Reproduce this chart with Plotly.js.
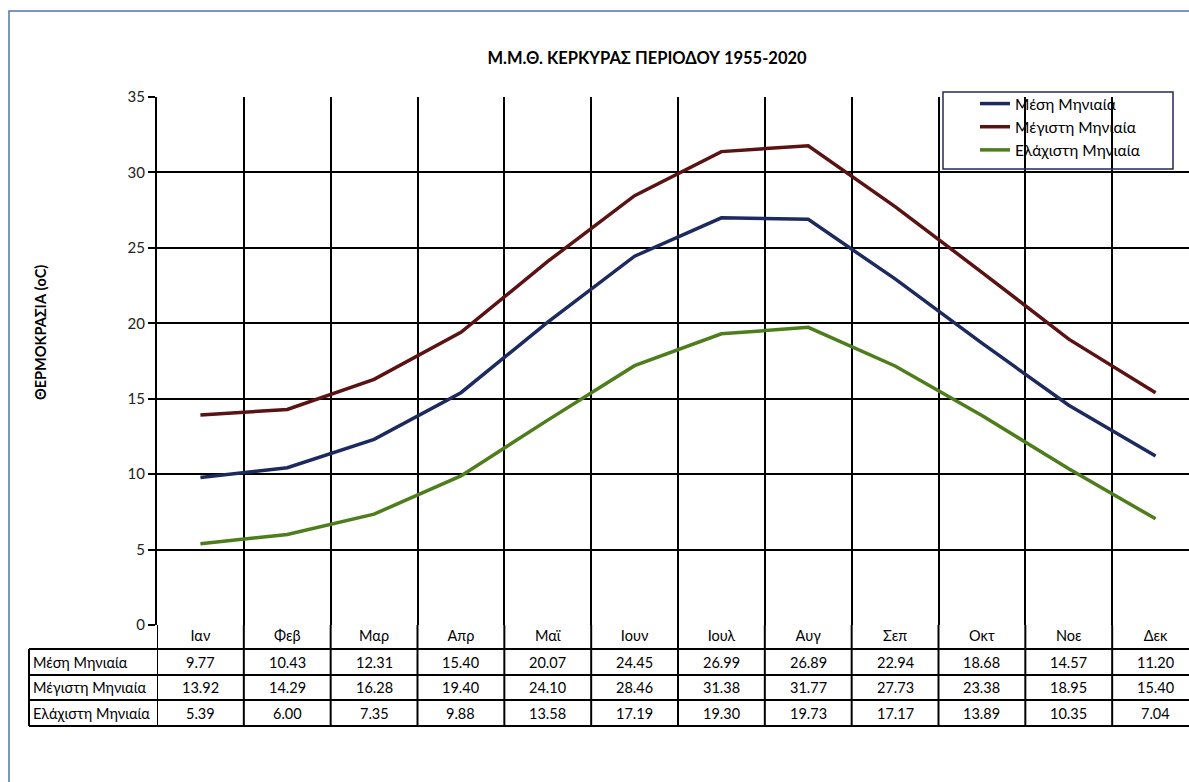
<!DOCTYPE html>
<html>
<head>
<meta charset="utf-8">
<script src="https://cdn.plot.ly/plotly-3.0.1.min.js"></script>
<style>
html,body{margin:0;padding:0;overflow:hidden;background:#fff;}
#chart{width:1210px;height:782px;}
</style>
</head>
<body>
<div id="chart"></div>
<script>
const months = ['Ιαν','Φεβ','Μαρ','Απρ','Μαϊ','Ιουν','Ιουλ','Αυγ','Σεπ','Οκτ','Νοε','Δεκ'];
const meanT = [9.77,10.43,12.31,15.40,20.07,24.45,26.99,26.89,22.94,18.68,14.57,11.20];
const maxT  = [13.92,14.29,16.28,19.40,24.10,28.46,31.38,31.77,27.73,23.38,18.95,15.40];
const minT  = [5.39,6.00,7.35,9.88,13.58,17.19,19.30,19.73,17.17,13.89,10.35,7.04];
const seriesNames = ['Μέση Μηνιαία','Μέγιστη Μηνιαία','Ελάχιστη Μηνιαία'];
const seriesValues = [meanT, maxT, minT];
const seriesColors = ['#1c2a5e','#5a1212','#4e7d1c'];
const chartTitle = 'Μ.Μ.Θ. ΚΕΡΚΥΡΑΣ ΠΕΡΙΟΔΟΥ 1955-2020';
const yTitle = 'ΘΕΡΜΟΚΡΑΣΙΑ (oC)';

const FONT = 'Lato, "Noto Sans", "Open Sans", sans-serif';

// pixel geometry helpers (plot area: left 157, top 97, width 1042, height 528)
const L = 157, T = 97, W = 1042, H = 528, B = T + H;
const px = v => (v - L) / W;
const py = v => (B - v) / H;

const traces = seriesNames.map((n, i) => ({
  type: 'scatter', mode: 'lines', name: n, legendgroup: 'g' + i,
  x: months, y: seriesValues[i],
  line: {color: seriesColors[i], width: 3.5},
  hoverinfo: 'skip'
}));

const shapes = [];
const annotations = [];

// outer chart frame
shapes.push({type:'rect', xref:'paper', yref:'paper', x0:px(9), x1:px(1250), y0:py(850), y1:py(11),
  line:{color:'#4f74a8', width:1.5}, fillcolor:'rgba(0,0,0,0)', layer:'below'});

// legend box
shapes.push({type:'rect', xref:'paper', yref:'paper', x0:px(943), x1:px(1173), y0:py(169), y1:py(92),
  line:{color:'#25285a', width:1.5}, fillcolor:'rgba(0,0,0,0)'});

// data table geometry
const rowLines = [649, 675, 700, 726];
const rowCenters = [662, 687.5, 713];
rowLines.forEach(yv => shapes.push({type:'line', xref:'paper', yref:'paper', x0:px(29), x1:px(1300), y0:py(yv), y1:py(yv),
  line:{color:'#000', width:2}}));
// left edge of header column
shapes.push({type:'line', xref:'paper', yref:'paper', x0:px(29), x1:px(29), y0:py(649), y1:py(726), line:{color:'#000', width:2}});
// column separators continuing from the category boundaries
for (let k = 0; k <= months.length; k++) {
  shapes.push({type:'line', xref:'x', yref:'paper', x0:k-0.5, x1:k-0.5, y0:0, y1:py(726), line:{color:'#000', width:2}});
}
// row headers and values
seriesNames.forEach((n, r) => {
  annotations.push({xref:'paper', yref:'paper', x:px(31), y:py(rowCenters[r]), xanchor:'left', yanchor:'middle',
    text:n, showarrow:false, font:{family:FONT, size:14.5, color:'#000'}});
  seriesValues[r].forEach((v, c) => {
    annotations.push({xref:'x', yref:'paper', x:c, y:py(rowCenters[r]), xanchor:'center', yanchor:'middle',
      text:v.toFixed(2), showarrow:false, font:{family:FONT, size:14.5, color:'#000'}});
  });
});
// y axis title
annotations.push({xref:'paper', yref:'paper', x:px(40), y:py(333), textangle:-90, xanchor:'center', yanchor:'middle',
  text:yTitle, showarrow:false, font:{family:FONT, size:14.5, color:'#000', weight:700}});

const layout = {
  width: 1210, height: 782,
  margin: {l: L, r: 1210 - L - W, t: T, b: 782 - B},
  paper_bgcolor: '#fff', plot_bgcolor: '#fff',
  font: {family: FONT, size: 14, color: '#000'},
  title: {text: chartTitle, x: 647/1210, xref: 'container', xanchor: 'center', y: 1 - 58/782, yref: 'container', yanchor: 'middle',
    font: {family: FONT, size: 16.5, color: '#000', weight: 700}},
  xaxis: {type: 'category', range: [-0.5, 11.5], tickson: 'boundaries', showgrid: true, gridcolor: '#000', gridwidth: 2,
    ticks: '', showline: false, zeroline: false, tickfont: {family: FONT, size: 14.5, color: '#000'}, fixedrange: true},
  yaxis: {range: [0, 35], dtick: 5, tick0: 0, showgrid: true, gridcolor: '#000', gridwidth: 2, zeroline: false,
    showline: true, linecolor: '#000', linewidth: 2, ticks: 'outside', ticklen: 7, tickwidth: 2, tickcolor: '#000',
    tickfont: {family: FONT, size: 15, color: '#222'}, fixedrange: true},
  showlegend: true,
  legend: {x: px(975), xanchor: 'left', y: py(87), yanchor: 'top', bgcolor: 'rgba(0,0,0,0)', borderwidth: 0,
    font: {family: FONT, size: 15.5, color: '#000'}, tracegroupgap: 9, traceorder: 'normal'},
  shapes: shapes,
  annotations: annotations
};

Plotly.newPlot('chart', traces, layout, {displayModeBar: false, staticPlot: true});
</script>
</body>
</html>
